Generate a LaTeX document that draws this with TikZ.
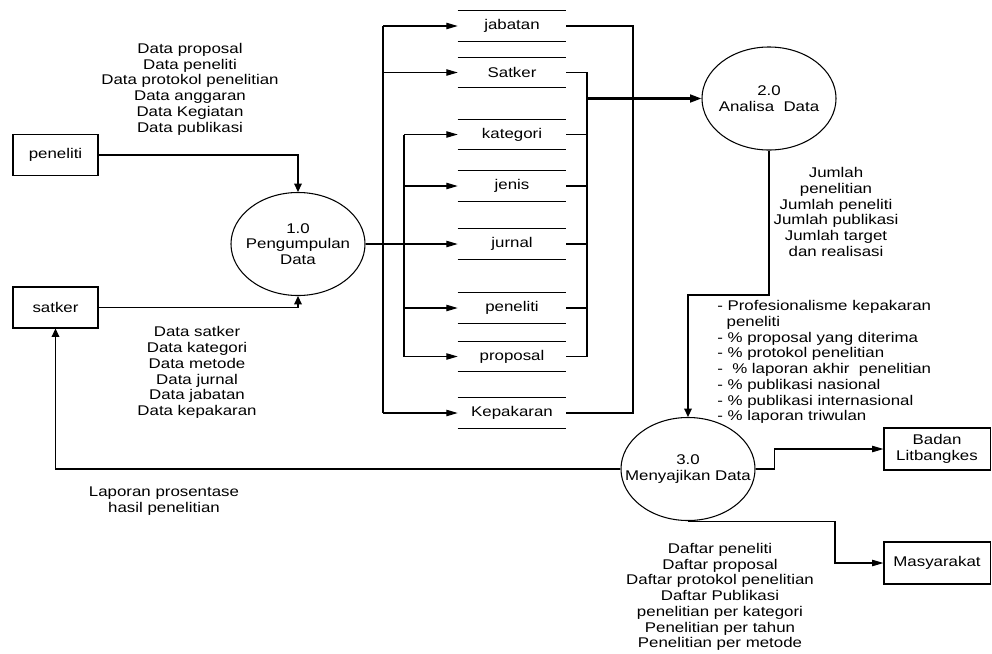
\documentclass[tikz,border=0pt]{standalone}
\usepackage{fontspec}
\setmainfont{Liberation Sans}[FakeStretch=1.2]
\usepackage{tikz}
\usetikzlibrary{arrows.meta,shapes.geometric}
\newcommand{\dfdfont}{\fontsize{10}{11.2}\selectfont}
\tikzset{
  flow/.style={-{Triangle[length=8pt,width=4.5pt]}, line width=0.75pt, draw=black},
  vflow/.style={-{Triangle[length=6pt,width=5.5pt]}, line width=0.75pt, draw=black},
  link/.style={line width=0.75pt, draw=black},
  mainflow/.style={line width=1.6pt, draw=black},
  entity/.style={draw=black, line width=0.75pt, rectangle, minimum width=2.125cm, minimum height=1.025cm, inner sep=1pt, font=\dfdfont, align=center},
  process/.style={draw=black, line width=0.75pt, ellipse, minimum width=3.35cm, minimum height=2.575cm, inner sep=0pt},
  datastore/.style={rectangle, minimum width=2.7cm, minimum height=0.75cm, inner sep=0pt, font=\dfdfont},
  flowlabel/.style={font=\dfdfont, align=center, inner sep=0pt}
}

\begin{document}
\begin{tikzpicture}[x=0.025cm, y=-0.025cm]
  \useasboundingbox (0,0) rectangle (992,653);

  % external entities
  \node[entity] (pen) at (55.5,155) {peneliti};
  \node[entity] (sat) at (55.5,307.5) {satker};
  \node[entity, minimum width=2.65cm, minimum height=1.05cm] (bad) at (937,449) {Badan\\Litbangkes};
  \node[entity, minimum width=2.65cm, minimum height=1.05cm] (mas) at (937,563) {Masyarakat};

  % processes
  \node[process, label={[flowlabel]center:1.0\\Pengumpulan\\Data}] (p1) at (298,244) {};
  \node[process, label={[flowlabel]center:2.0\\Analisa~~Data}] (p2) at (769,98.5) {};
  \node[process, label={[flowlabel]center:3.0\\Menyajikan Data}] (p3) at (688,469) {};

  % data stores
  \node[datastore] (jab) at (512,26) {jabatan};
  \node[datastore] (stk) at (512,72.5) {Satker};
  \node[datastore] (kat) at (512,134.5) {kategori};
  \node[datastore] (jen) at (512,186) {jenis};
  \node[datastore] (jur) at (512,244) {jurnal};
  \node[datastore] (pnl) at (512,308) {peneliti};
  \node[datastore] (pro) at (512,356.5) {proposal};
  \node[datastore] (kep) at (512,413) {Kepakaran};
  \foreach \s in {jab,stk,kat,jen,jur,pnl,pro,kep}
    \draw[link] (\s.north west) -- (\s.north east) (\s.south west) -- (\s.south east);

  % bus lines
  \coordinate (lo) at (383,0);
  \coordinate (li) at (404,0);
  \coordinate (ri) at (587,0);
  \coordinate (ro) at (633,0);

  % entities to process 1.0
  \draw[vflow] (pen.east) -| (p1.north);
  \draw[vflow] (sat.east) -| (p1.south);

  % process 1.0 to stores
  \draw[mainflow] (p1.east) -- (p1.east -| li);
  \draw[link] (jab.west -| lo) -- (kep.west -| lo);
  \draw[link] (kat.west -| li) -- (pro.west -| li);
  \foreach \s in {jab,stk,kep}
    \draw[flow] (\s.west -| lo) -- (\s.west);
  \foreach \s in {kat,jen,jur,pnl,pro}
    \draw[flow] (\s.west -| li) -- (\s.west);

  % stores to process 2.0
  \draw[link] (stk.east) -- (stk.east -| ri) -- (pro.east -| ri) -- (pro.east);
  \foreach \s in {kat,jen,jur,pnl}
    \draw[link] (\s.east) -- (\s.east -| ri);
  \draw[link] (jab.east) -- (jab.east -| ro) -- (kep.east -| ro) -- (kep.east);
  \draw[mainflow, -{Triangle[length=8pt,width=5.5pt]}] (p2.west -| ri) -- (p2.west);

  % process 2.0 to 3.0
  \coordinate (bend23) at (688,295);
  \draw[vflow] (p2.south) |- (bend23) -- (p3.north);

  % outputs of process 3.0
  \draw[vflow] (p3.west) -| (sat.south);
  \draw[flow] (p3.east) -- ++(19,0) |- (bad.west);
  \draw[flow] (p3.south) -- ++(147,0) |- (mas.west);

  % labels
  \node[flowlabel] (lbin) at (190,89) {Data proposal\\Data peneliti\\Data protokol penelitian\\Data anggaran\\Data Kegiatan\\Data publikasi};
  \node[flowlabel] (lbsat) at (197,372.5) {Data satker\\Data kategori\\Data metode\\Data jurnal\\Data jabatan\\Data kepakaran};
  \node[flowlabel] (lblap) at (164,501) {Laporan prosentase\\hasil penelitian};
  \node[flowlabel] (lbjml) at (836,212) {Jumlah\\penelitian\\Jumlah peneliti\\Jumlah publikasi\\Jumlah target\\dan realisasi};
  \node[flowlabel, align=left, anchor=west] (lbpct) at (717,362) {- Profesionalisme kepakaran\\\ \ peneliti\\- \% proposal yang diterima\\- \% protokol penelitian\\-\ \ \% laporan akhir\ \ penelitian\\- \% publikasi nasional\\- \% publikasi internasional\\- \% laporan triwulan};
  \node[flowlabel] (lbdft) at (720,597) {Daftar peneliti\\Daftar proposal\\Daftar protokol penelitian\\Daftar Publikasi\\penelitian per kategori\\Penelitian per tahun\\Penelitian per metode};
\end{tikzpicture}
\end{document}
